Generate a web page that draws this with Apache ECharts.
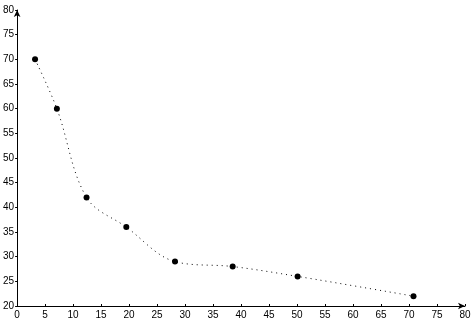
<!DOCTYPE html>
<html>
<head>
<meta charset="utf-8">
<script src="https://cdn.jsdelivr.net/npm/echarts@6/dist/echarts.min.js"></script>
<style>
  html, body { margin: 0; padding: 0; background: #fff; }
  #chart { width: 475px; height: 322px; }
</style>
</head>
<body>
<div id="chart"></div>
<script>
// data
const xValues = [3.2, 7.1, 12.4, 19.5, 28.2, 38.5, 50.1, 70.8];
const yValues = [70, 60, 42, 36, 29, 28, 26, 22];
const xTicks = [0, 80, 5];   // min, max, step
const yTicks = [20, 80, 5];

const points = xValues.map((x, i) => [x, yValues[i]]);

const axisFont = {
  color: "#000",
  fontFamily: "Liberation Sans",
  fontSize: 10,
};

const chart = echarts.init(document.getElementById("chart"));
chart.setOption({
  animation: false,
  grid: { left: 17, right: 10, top: 10, bottom: 16 },
  xAxis: {
    type: "value",
    min: xTicks[0],
    max: xTicks[1],
    interval: xTicks[2],
    axisLine: {
      lineStyle: { color: "#000", width: 1 },
      symbol: ["none", "arrow"],
      symbolSize: [5, 7],
    },
    axisTick: { show: true, inside: true, length: 2, lineStyle: { color: "#000" } },
    axisLabel: { ...axisFont, margin: 4 },
    splitLine: { show: false },
  },
  yAxis: {
    type: "value",
    min: yTicks[0],
    max: yTicks[1],
    interval: yTicks[2],
    axisLine: {
      lineStyle: { color: "#000", width: 1 },
      symbol: ["none", "arrow"],
      symbolSize: [5, 7],
    },
    axisTick: { show: true, length: 2, lineStyle: { color: "#000" } },
    axisLabel: { ...axisFont, margin: 3 },
    splitLine: { show: false },
  },
  series: [
    {
      type: "line",
      data: points,
      smooth: 0.35,
      symbol: "circle",
      symbolSize: 6,
      itemStyle: { color: "#000" },
      lineStyle: { color: "#000", width: 1, type: [1, 4] },
    },
  ],
});
</script>
</body>
</html>
